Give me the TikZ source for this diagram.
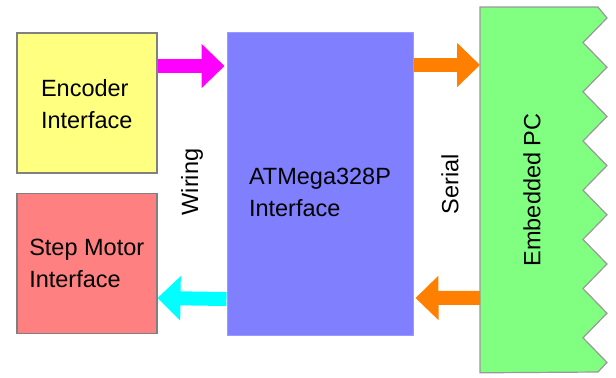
\documentclass[tikz,border=0pt]{standalone}
\usepackage{fontspec}
\setmainfont{Liberation Sans}
\usetikzlibrary{arrows.meta,positioning}
\definecolor{encyellow}{HTML}{FFFF80}
\definecolor{steppink}{HTML}{FF8080}
\definecolor{mcublue}{HTML}{8080FF}
\definecolor{pcgreen}{HTML}{80FF80}
\definecolor{wiremag}{HTML}{FF00FF}
\definecolor{wirecyan}{HTML}{00FFFF}
\definecolor{serorange}{HTML}{FF8000}
\definecolor{edgegrey}{HTML}{808080}
\tikzset{
  box/.style={rectangle,draw=edgegrey,line width=0.75pt,align=left,minimum width=70pt,minimum height=70pt,font=\fontsize{11.75}{16}\selectfont},
  mcubox/.style={rectangle,draw=mcublue!80,line width=0.5pt,fill=mcublue,align=left,minimum width=93pt,minimum height=151.5pt,font=\fontsize{11.75}{16}\selectfont},
  pcbody/.style={rectangle,minimum width=51.5pt,minimum height=182.5pt,inner sep=0pt},
  fatarrow/.style={line width=7pt,-{Triangle[length=11.5pt,width=21.5pt]}},
  linklabel/.style={rotate=90,font=\fontsize{11.75}{14}\selectfont}
}
\begin{document}
\begin{tikzpicture}[x=0.5pt,y=-0.5pt]
    \useasboundingbox (0,0) rectangle (616,377);
    \node[box,fill=encyellow,anchor=north west] (enc) at (16,32) {\rule{0pt}{10pt}Encoder\\Interface};
    \node[box,fill=steppink,below=9.5pt of enc] (step) {Step Motor\\Interface};
    \node[mcubox,right=34.5pt of enc.north east,anchor=north west] (mcu) {\rule{0pt}{16.6pt}ATMega328P\\Interface};
    \node[pcbody,anchor=north west] (pc) at (480,7) {};

    % Embedded PC with torn edge
    \filldraw[fill=pcgreen,draw=edgegrey!80,line width=0.6pt] (pc.north west) -- ++(118,0) -- ++(9,11)
      \foreach \k in {1,...,7}{ -- ++(-24,24.6) -- ++(24,24.6) } -- ++(-9,9.6) -- (pc.south west) -- cycle;
    \node[linklabel] at (pc.center) {Embedded PC};

    \draw[fatarrow,wiremag] ([yshift=-17pt]enc.north east) -- ([yshift=-17pt,xshift=-1pt]mcu.north west);
    \draw[fatarrow,wirecyan] ([yshift=18.5pt]mcu.south west) -- ([yshift=18pt]step.south east);
    \draw[fatarrow,serorange] ([yshift=-16.5pt]mcu.north east) -- ([yshift=-29pt]pc.north west);
    \draw[fatarrow,serorange] ([yshift=37.5pt]pc.south west) -- ([yshift=19pt,xshift=1pt]mcu.south east);

    \node[linklabel] (wiring) at (192,182) {Wiring};
    \node[linklabel] (serial) at (450,184) {Serial};
  \end{tikzpicture}
\end{document}
